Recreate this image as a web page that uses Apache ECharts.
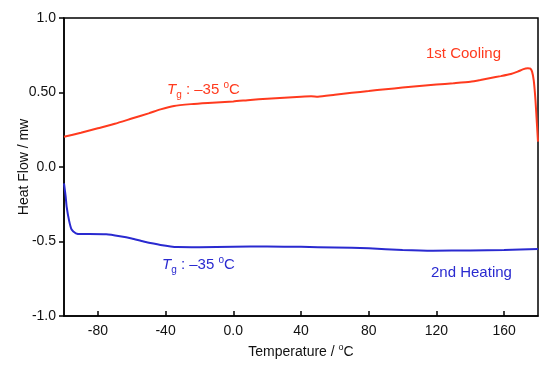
<!DOCTYPE html>
<html><head><meta charset="utf-8">
<script src="https://cdn.jsdelivr.net/npm/echarts@6/dist/echarts.min.js"></script>
<style>html,body{margin:0;padding:0;background:#fff}#c{width:550px;height:368px}</style>
</head><body><div id="c"></div>
<script>
// 1st Cooling
var coolT = [-100,-90,-80,-70,-60,-50,-43,-35,-25,-15,0,10,20,30,40,46,50,60,70,80,90,100,110,120,130,140,146,152,158,164,168,171,174,175.5,176.5,177.5,178.5,179.3,180];
var coolV = [0.203,0.23,0.26,0.29,0.325,0.36,0.387,0.41,0.422,0.43,0.44,0.45,0.458,0.465,0.472,0.475,0.472,0.485,0.498,0.51,0.522,0.533,0.544,0.553,0.562,0.572,0.584,0.598,0.61,0.624,0.64,0.655,0.662,0.66,0.64,0.58,0.45,0.3,0.17];
// 2nd Heating
var heatT = [-100,-99,-98.4,-97,-95.5,-93,-90,-85,-75,-67,-60,-53,-43,-33,-20,0,20,40,60,80,100,118,140,160,180];
var heatV = [-0.11,-0.2,-0.27,-0.36,-0.42,-0.445,-0.45,-0.45,-0.452,-0.465,-0.48,-0.5,-0.523,-0.537,-0.538,-0.535,-0.534,-0.536,-0.54,-0.546,-0.557,-0.562,-0.56,-0.557,-0.55];
var xTicks = [-80,-40,0,40,80,120,160];
var xTickLabels = ['-80','-40','0.0','40','80','120','160'];
var yTicks = [-1,-0.5,0,0.5,1];
var yTickLabels = ['-1.0','-0.5','0.0','0.50','1.0'];

var RED = '#ff3a1e', BLUE = '#2a2ad0';
var FONT = 'Liberation Sans';
function pairs(a,b){return a.map(function(v,i){return [v,b[i]];});}
var chart = echarts.init(document.getElementById('c'));
function tgRich(color){
  return {
    t:{fontFamily:FONT,fontSize:15,fontStyle:'italic',fill:color,lineHeight:20,verticalAlign:'middle'},
    sub:{fontFamily:FONT,fontSize:10,fill:color,lineHeight:20,verticalAlign:'bottom'},
    n:{fontFamily:FONT,fontSize:15,fill:color,lineHeight:20,verticalAlign:'middle'},
    sup:{fontFamily:FONT,fontSize:10,fill:color,lineHeight:20,verticalAlign:'top'}
  };
}
chart.setOption({
  animation:false,
  grid:{left:64,right:12,top:18,bottom:52,containLabel:false,outerBoundsMode:'none',show:true,borderColor:'#000',borderWidth:1.5,backgroundColor:'transparent'},
  xAxis:{type:'value',min:-100,max:180,
    name:'{a|Temperature / }{s|o}{a|C}',nameLocation:'middle',nameGap:27,nameMoveOverlap:false,
    nameTextStyle:{rich:{a:{fontFamily:FONT,fontSize:14,color:'#111',lineHeight:18,verticalAlign:'middle'},s:{fontFamily:FONT,fontSize:9,color:'#111',lineHeight:18,verticalAlign:'top'}}},
    axisLine:{show:true,onZero:false,lineStyle:{color:'#000',width:1.5}},
    axisTick:{show:true,inside:true,length:5,customValues:xTicks,lineStyle:{color:'#000',width:1.5}},
    axisLabel:{customValues:xTicks,fontFamily:FONT,fontSize:14,color:'#111',margin:8,
      formatter:function(v){var i=xTicks.indexOf(v);return i>=0?xTickLabels[i]:'';}},
    splitLine:{show:false}},
  yAxis:{type:'value',min:-1,max:1,interval:0.5,
    name:'Heat Flow / mw',nameLocation:'middle',nameGap:33,nameRotate:90,nameMoveOverlap:false,
    nameTextStyle:{fontFamily:FONT,fontSize:14,color:'#111'},
    axisLine:{show:true,onZero:false,lineStyle:{color:'#000',width:1.5}},
    axisTick:{show:true,inside:false,length:5,lineStyle:{color:'#000',width:1.5}},
    axisLabel:{fontFamily:FONT,fontSize:14,color:'#111',margin:8,
      formatter:function(v){for(var i=0;i<yTicks.length;i++){if(Math.abs(yTicks[i]-v)<1e-9)return yTickLabels[i];}return '';}},
    splitLine:{show:false}},
  series:[
    {type:'line',name:'1st Cooling',data:pairs(coolT,coolV),showSymbol:false,smooth:0.2,lineStyle:{color:RED,width:2},itemStyle:{color:RED}},
    {type:'line',name:'2nd Heating',data:pairs(heatT,heatV),showSymbol:false,smooth:0.2,lineStyle:{color:BLUE,width:2},itemStyle:{color:BLUE}}
  ],
  graphic:[
    {type:'text',left:167,top:80,style:{text:'{t|T}{sub|g}{n| : –35 }{sup|o}{n|C}',rich:tgRich(RED)}},
    {type:'text',left:426,top:46,style:{text:'1st Cooling',fontFamily:FONT,fontSize:15,fill:RED}},
    {type:'text',left:162,top:255,style:{text:'{t|T}{sub|g}{n| : –35 }{sup|o}{n|C}',rich:tgRich(BLUE)}},
    {type:'text',left:431,top:265,style:{text:'2nd Heating',fontFamily:FONT,fontSize:15,fill:BLUE}}
  ]
});
</script></body></html>
